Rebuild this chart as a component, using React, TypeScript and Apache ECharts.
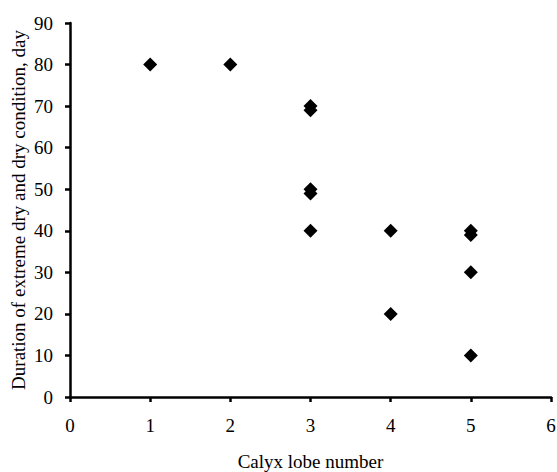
import React, { useEffect, useRef } from "react";
import * as echarts from "echarts";

const lobeNumber = [1, 2, 3, 3, 3, 3, 3, 4, 4, 5, 5, 5, 5];
const durationDays = [80, 80, 70, 69, 50, 49, 40, 40, 20, 40, 39, 30, 10];
const xTitle = "Calyx lobe number";
const yTitle = "Duration of extreme dry and dry condition, day";

export default function App() {
  const ref = useRef<HTMLDivElement>(null);
  useEffect(() => {
    if (!ref.current) return;
    const chart = echarts.init(ref.current, undefined, { renderer: "svg" });
    const font = "'Liberation Serif', 'Times New Roman', serif";
    const axisCommon = {
      axisLine: { show: true, lineStyle: { color: "#000", width: 2.5 } },
      axisTick: { show: true, inside: false, length: 5, lineStyle: { color: "#000", width: 2.5 } },
      splitLine: { show: false },
      axisLabel: { color: "#000", fontFamily: font, fontSize: 19 },
      nameTextStyle: { color: "#000", fontFamily: font, fontSize: 19 },
      nameLocation: "middle" as const,
    };
    chart.setOption({
      animation: false,
      backgroundColor: "#fff",
      grid: { left: 70, right: 6, top: 23, bottom: 75, containLabel: false, outerBoundsMode: "none" },
      xAxis: {
        type: "value",
        min: 0,
        max: 6,
        interval: 1,
        name: xTitle,
        nameGap: 55,
        ...axisCommon,
        axisLabel: { ...axisCommon.axisLabel, margin: 19 },
      },
      yAxis: {
        type: "value",
        min: 0,
        max: 90,
        interval: 10,
        name: yTitle,
        nameGap: 42,
        nameMoveOverlap: false,
        ...axisCommon,
        axisLabel: { ...axisCommon.axisLabel, margin: 17 },
      },
      series: [
        {
          type: "scatter",
          symbol: "diamond",
          symbolSize: 14,
          itemStyle: { color: "#000", opacity: 1 },
          data: lobeNumber.map((x, i) => [x, durationDays[i]]),
        },
      ],
    });
    return () => chart.dispose();
  }, []);
  return <div ref={ref} style={{ width: 557, height: 472, position: "absolute", left: 0, top: 0 }} />;
}
